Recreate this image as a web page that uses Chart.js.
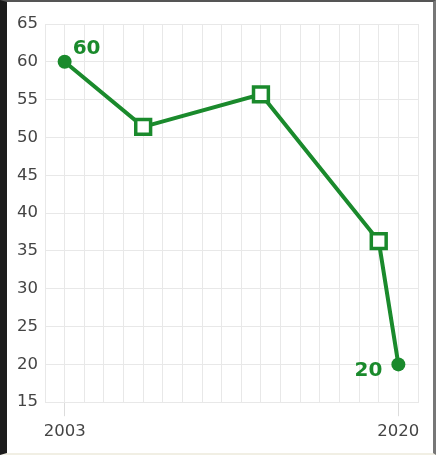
<!DOCTYPE html>
<html>
<head>
<meta charset="utf-8">
<script src="https://cdn.jsdelivr.net/npm/chart.js@4/dist/chart.umd.min.js"></script>
<style>
  html, body { margin: 0; padding: 0; background: #fff; }
  #frame {
    width: 426px; height: 451px;
    border-left: 7px solid #1c1c1c;
    border-right: 3px solid #777;
    border-top: 2px solid #555;
    border-bottom: 2px solid #f1efe4;
    background: #fff;
  }
  #chart { display: block; }
</style>
</head>
<body>
<div id="frame"><canvas id="chart" width="426" height="451"></canvas></div>
<script>
/* ---------- data ---------- */
const years = [2003, 2007, 2013, 2019, 2020];
const values = [60, 51.4, 55.7, 36.3, 20];
const pointShapes = ["circle", "rect", "rect", "rect", "circle"];
const labeledYears = [2003, 2020];
const yTicks = [15, 20, 25, 30, 35, 40, 45, 50, 55, 60, 65];

const GREEN = "#1a8a2c";
const GRID = "#e8e8e8";
const FONT = "'DejaVu Sans', sans-serif";

// etiquetas de valor junto al primer y último punto
const valueLabels = {
    id: "valueLabels",
    afterDatasetsDraw(chart) {
        const ctx = chart.ctx;
        const meta = chart.getDatasetMeta(0);
        const last = meta.data.length - 1;
        ctx.save();
        ctx.font = "bold 20px " + FONT;
        ctx.fillStyle = GREEN;
        ctx.textBaseline = "middle";
        const p0 = meta.data[0];
        ctx.textAlign = "left";
        ctx.fillText(String(values[0]), p0.x + 8, p0.y - 13);
        const pN = meta.data[last];
        ctx.textAlign = "right";
        ctx.fillText(String(values[last]), pN.x - 16, pN.y + 6);
        ctx.restore();
    }
};

new Chart(document.getElementById("chart"), {
    type: "line",
    data: {
        datasets: [{
            data: years.map((y, i) => ({ x: y, y: values[i] })),
            borderColor: GREEN,
            borderWidth: 4,
            pointStyle: pointShapes,
            pointRadius: pointShapes.map(s => s === "rect" ? 10.5 : 7),
            pointBorderWidth: pointShapes.map(s => s === "rect" ? 3.5 : 0),
            pointBackgroundColor: pointShapes.map(s => s === "rect" ? "#fff" : GREEN),
            pointBorderColor: GREEN,
            tension: 0
        }]
    },
    options: {
        responsive: false,
        animation: false,
        layout: { padding: { left: 0, right: 15, top: 22, bottom: 5 } },
        plugins: {
            legend: { display: false },
            tooltip: { enabled: false }
        },
        scales: {
            x: {
                type: "linear",
                min: 2002,
                max: 2021,
                border: { color: GRID },
                grid: {
                    color: GRID,
                    tickLength: 14,
                    tickColor: (c) => labeledYears.includes(c.tick && c.tick.value) ? "#dcdcdc" : "rgba(0,0,0,0)"
                },
                ticks: {
                    stepSize: 1,
                    autoSkip: false,
                    maxRotation: 0,
                    padding: 6,
                    color: "#444",
                    font: { family: FONT, size: 16.5 },
                    callback: (v) => labeledYears.includes(v) ? String(v) : ""
                }
            },
            y: {
                min: yTicks[0],
                max: yTicks[yTicks.length - 1],
                border: { color: GRID },
                grid: { color: GRID, drawTicks: false },
                afterFit: (scale) => { scale.width = 38; },
                ticks: {
                    stepSize: 5,
                    padding: 7,
                    color: "#444",
                    font: { family: FONT, size: 16.5 }
                }
            }
        }
    },
    plugins: [valueLabels]
});
</script>
</body>
</html>
